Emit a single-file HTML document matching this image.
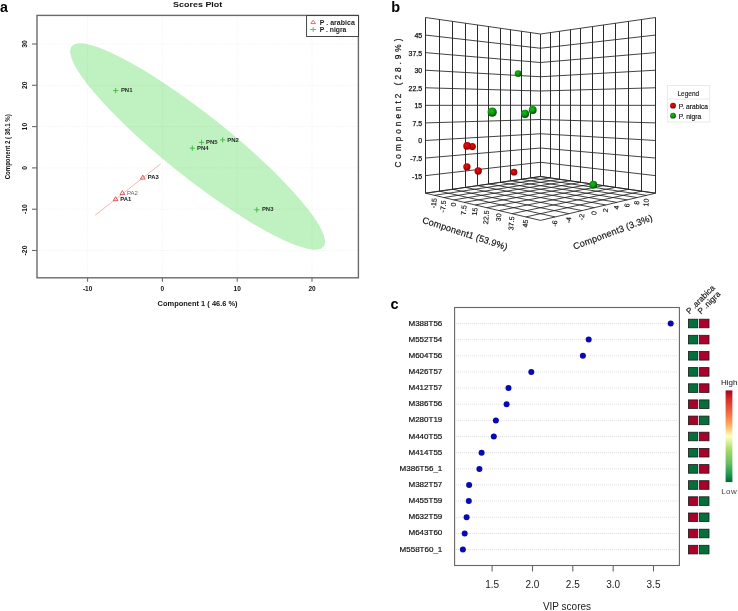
<!DOCTYPE html>
<html><head><meta charset="utf-8"><style>
html,body{margin:0;padding:0;background:#fff;width:738px;height:611px;overflow:hidden;}
svg{display:block;will-change:transform;}
</style></head><body>
<svg width="738" height="611" viewBox="0 0 738 611">
<rect width="738" height="611" fill="#fff"/>
<text x="0.00" y="11.50" font-family="'Liberation Sans', sans-serif" font-size="14.2" font-weight="bold" fill="#000">a</text>
<text x="173.10" y="7.30" font-family="'Liberation Sans', sans-serif" font-size="7.0" font-weight="bold" fill="#111" textLength="49.2" lengthAdjust="spacingAndGlyphs">Scores Plot</text>
<ellipse cx="197.55" cy="146.5" rx="160.9" ry="31.5" transform="rotate(38.5 197.55 146.5)" fill="#c0f1c0"/>
<line x1="87.6" y1="15.4" x2="87.6" y2="277.8" stroke="#000" stroke-opacity="0.08" stroke-width="0.7" stroke-dasharray="1,1.2"/>
<line x1="162.4" y1="15.4" x2="162.4" y2="277.8" stroke="#000" stroke-opacity="0.08" stroke-width="0.7" stroke-dasharray="1,1.2"/>
<line x1="237.2" y1="15.4" x2="237.2" y2="277.8" stroke="#000" stroke-opacity="0.08" stroke-width="0.7" stroke-dasharray="1,1.2"/>
<line x1="312.0" y1="15.4" x2="312.0" y2="277.8" stroke="#000" stroke-opacity="0.08" stroke-width="0.7" stroke-dasharray="1,1.2"/>
<line x1="37.0" y1="44.0" x2="358.4" y2="44.0" stroke="#000" stroke-opacity="0.08" stroke-width="0.7" stroke-dasharray="1,1.2"/>
<line x1="37.0" y1="85.3" x2="358.4" y2="85.3" stroke="#000" stroke-opacity="0.08" stroke-width="0.7" stroke-dasharray="1,1.2"/>
<line x1="37.0" y1="126.6" x2="358.4" y2="126.6" stroke="#000" stroke-opacity="0.08" stroke-width="0.7" stroke-dasharray="1,1.2"/>
<line x1="37.0" y1="167.9" x2="358.4" y2="167.9" stroke="#000" stroke-opacity="0.08" stroke-width="0.7" stroke-dasharray="1,1.2"/>
<line x1="37.0" y1="209.2" x2="358.4" y2="209.2" stroke="#000" stroke-opacity="0.08" stroke-width="0.7" stroke-dasharray="1,1.2"/>
<line x1="37.0" y1="250.5" x2="358.4" y2="250.5" stroke="#000" stroke-opacity="0.08" stroke-width="0.7" stroke-dasharray="1,1.2"/>
<line x1="95.2" y1="215.2" x2="160.5" y2="164" stroke="#f08c8c" stroke-width="0.65"/>
<rect x="37.0" y="15.4" width="321.4" height="262.4" fill="none" stroke="#6a6a6a" stroke-width="1.4"/>
<line x1="87.6" y1="277.8" x2="87.6" y2="281.8" stroke="#6a6a6a" stroke-width="1.1"/>
<text x="87.60" y="290.90" font-family="'Liberation Sans', sans-serif" font-size="6.5" font-weight="bold" text-anchor="middle" fill="#111">-10</text>
<line x1="162.4" y1="277.8" x2="162.4" y2="281.8" stroke="#6a6a6a" stroke-width="1.1"/>
<text x="162.40" y="290.90" font-family="'Liberation Sans', sans-serif" font-size="6.5" font-weight="bold" text-anchor="middle" fill="#111">0</text>
<line x1="237.2" y1="277.8" x2="237.2" y2="281.8" stroke="#6a6a6a" stroke-width="1.1"/>
<text x="237.20" y="290.90" font-family="'Liberation Sans', sans-serif" font-size="6.5" font-weight="bold" text-anchor="middle" fill="#111">10</text>
<line x1="312.0" y1="277.8" x2="312.0" y2="281.8" stroke="#6a6a6a" stroke-width="1.1"/>
<text x="312.00" y="290.90" font-family="'Liberation Sans', sans-serif" font-size="6.5" font-weight="bold" text-anchor="middle" fill="#111">20</text>
<line x1="32.0" y1="44.0" x2="37.0" y2="44.0" stroke="#6a6a6a" stroke-width="1.1"/>
<text transform="translate(27.30 44.00) rotate(-90)" font-family="'Liberation Sans', sans-serif" font-size="6.8" font-weight="bold" text-anchor="middle" fill="#111">30</text>
<line x1="32.0" y1="85.3" x2="37.0" y2="85.3" stroke="#6a6a6a" stroke-width="1.1"/>
<text transform="translate(27.30 85.30) rotate(-90)" font-family="'Liberation Sans', sans-serif" font-size="6.8" font-weight="bold" text-anchor="middle" fill="#111">20</text>
<line x1="32.0" y1="126.6" x2="37.0" y2="126.6" stroke="#6a6a6a" stroke-width="1.1"/>
<text transform="translate(27.30 126.60) rotate(-90)" font-family="'Liberation Sans', sans-serif" font-size="6.8" font-weight="bold" text-anchor="middle" fill="#111">10</text>
<line x1="32.0" y1="167.9" x2="37.0" y2="167.9" stroke="#6a6a6a" stroke-width="1.1"/>
<text transform="translate(27.30 167.90) rotate(-90)" font-family="'Liberation Sans', sans-serif" font-size="6.8" font-weight="bold" text-anchor="middle" fill="#111">0</text>
<line x1="32.0" y1="209.2" x2="37.0" y2="209.2" stroke="#6a6a6a" stroke-width="1.1"/>
<text transform="translate(27.30 209.20) rotate(-90)" font-family="'Liberation Sans', sans-serif" font-size="6.8" font-weight="bold" text-anchor="middle" fill="#111">-10</text>
<line x1="32.0" y1="250.5" x2="37.0" y2="250.5" stroke="#6a6a6a" stroke-width="1.1"/>
<text transform="translate(27.30 250.50) rotate(-90)" font-family="'Liberation Sans', sans-serif" font-size="6.8" font-weight="bold" text-anchor="middle" fill="#111">-20</text>
<text x="157.60" y="306.00" font-family="'Liberation Sans', sans-serif" font-size="7.2" font-weight="bold" fill="#111" textLength="80" lengthAdjust="spacingAndGlyphs">Component 1 ( 46.6 %)</text>
<text transform="translate(10.40 179.30) rotate(-90)" font-family="'Liberation Sans', sans-serif" font-size="6.8" font-weight="bold" fill="#111" textLength="65" lengthAdjust="spacingAndGlyphs">Component 2 ( 36.1 %)</text>
<rect x="306.6" y="15.6" width="51.9" height="20.9" fill="#fff" stroke="#333" stroke-width="0.9"/>
<path d="M313.2 20.2 L315.6 23.6 L310.8 23.6 Z" fill="none" stroke="#e86a6a" stroke-width="1"/>
<path d="M310.2 29.5 H316.2 M313.2 27.1 V31.9" stroke="#5cc45c" stroke-width="1"/>
<text x="319.80" y="24.80" font-family="'Liberation Sans', sans-serif" font-size="6.4" font-weight="bold" fill="#1a1a1a" textLength="35" lengthAdjust="spacingAndGlyphs">P . arabica</text>
<text x="319.80" y="31.50" font-family="'Liberation Sans', sans-serif" font-size="6.4" font-weight="bold" fill="#1a1a1a" textLength="26.6" lengthAdjust="spacingAndGlyphs">P . nigra</text>
<path d="M142.8 175.1 L145.2 179.1 L140.4 179.1 Z" fill="none" stroke="#e04848" stroke-width="0.9"/>
<text x="147.70" y="179.20" font-family="'Liberation Sans', sans-serif" font-size="5.4" font-weight="bold" fill="#111" textLength="11" lengthAdjust="spacingAndGlyphs">PA3</text>
<path d="M122.4 190.6 L124.8 194.6 L120.0 194.6 Z" fill="none" stroke="#e04848" stroke-width="0.9"/>
<text x="127.00" y="194.70" font-family="'Liberation Sans', sans-serif" font-size="5.4" fill="#666" textLength="11" lengthAdjust="spacingAndGlyphs">PA2</text>
<path d="M115.6 196.7 L118.0 200.7 L113.2 200.7 Z" fill="none" stroke="#e04848" stroke-width="0.9"/>
<text x="120.20" y="200.80" font-family="'Liberation Sans', sans-serif" font-size="5.4" font-weight="bold" fill="#111" textLength="11" lengthAdjust="spacingAndGlyphs">PA1</text>
<path d="M113.1 90.6 H118.3 M115.7 88.0 V93.2" stroke="#3cb83c" stroke-width="0.9"/>
<text x="120.90" y="92.20" font-family="'Liberation Sans', sans-serif" font-size="5.4" font-weight="bold" fill="#1f2a1f" textLength="11.6" lengthAdjust="spacingAndGlyphs">PN1</text>
<path d="M220.1 139.9 H225.3 M222.7 137.3 V142.5" stroke="#3cb83c" stroke-width="0.9"/>
<text x="227.20" y="141.50" font-family="'Liberation Sans', sans-serif" font-size="5.4" font-weight="bold" fill="#1f2a1f" textLength="11.6" lengthAdjust="spacingAndGlyphs">PN2</text>
<path d="M254.2 209.8 H259.4 M256.8 207.2 V212.4" stroke="#3cb83c" stroke-width="0.9"/>
<text x="261.90" y="211.40" font-family="'Liberation Sans', sans-serif" font-size="5.4" font-weight="bold" fill="#1f2a1f" textLength="11.6" lengthAdjust="spacingAndGlyphs">PN3</text>
<path d="M189.7 148.2 H194.9 M192.3 145.6 V150.8" stroke="#3cb83c" stroke-width="0.9"/>
<text x="197.10" y="149.80" font-family="'Liberation Sans', sans-serif" font-size="5.4" font-weight="bold" fill="#1f2a1f" textLength="11.6" lengthAdjust="spacingAndGlyphs">PN4</text>
<path d="M199.0 142.4 H204.2 M201.6 139.8 V145.0" stroke="#3cb83c" stroke-width="0.9"/>
<text x="206.10" y="144.00" font-family="'Liberation Sans', sans-serif" font-size="5.4" font-weight="bold" fill="#1f2a1f" textLength="11.6" lengthAdjust="spacingAndGlyphs">PN5</text>
<text x="391.30" y="11.60" font-family="'Liberation Sans', sans-serif" font-size="14.5" font-weight="bold" fill="#000">b</text>
<path d="M425.50 17.50L540.50 34.00M425.50 35.07L540.50 48.25M425.50 52.64L540.50 62.50M425.50 70.21L540.50 76.75M425.50 87.78L540.50 91.00M425.50 105.35L540.50 105.25M425.50 122.92L540.50 119.50M425.50 140.49L540.50 133.75M425.50 158.06L540.50 148.00M425.50 175.63L540.50 162.25M425.50 193.20L540.50 176.50M540.50 34.00L655.50 17.50M540.50 48.25L655.50 35.07M540.50 62.50L655.50 52.64M540.50 76.75L655.50 70.21M540.50 91.00L655.50 87.78M540.50 105.25L655.50 105.35M540.50 119.50L655.50 122.92M540.50 133.75L655.50 140.49M540.50 148.00L655.50 158.06M540.50 162.25L655.50 175.63M540.50 176.50L655.50 193.20M425.50 193.20L540.50 220.40M425.50 193.20L540.50 176.50M439.42 191.18L555.15 216.93M434.46 195.32L549.96 177.87M452.70 189.25L568.94 213.67M443.88 197.55L559.81 179.30M465.39 187.41L581.94 210.60M453.78 199.89L570.05 180.79M477.52 185.65L594.21 207.70M464.20 202.35L580.73 182.34M489.14 183.96L605.81 204.95M475.19 204.95L591.86 183.96M500.27 182.34L616.80 202.35M486.79 207.70L603.48 185.65M510.95 180.79L627.22 199.89M499.06 210.60L615.61 187.41M521.19 179.30L637.12 197.55M512.06 213.67L628.30 189.25M531.04 177.87L646.54 195.32M525.85 216.93L641.58 191.18M540.50 176.50L655.50 193.20M540.50 220.40L655.50 193.20" stroke="#222" stroke-width="0.85" fill="none"/>
<path d="M425.5 17.50L425.5 193.20M439.5 19.49L439.5 191.19M452.5 21.39L452.5 189.27M465.5 23.20L465.5 187.43M477.5 24.94L477.5 185.67M488.5 26.61L488.5 183.98M500.5 28.21L500.5 182.36M510.5 29.74L510.5 180.81M521.5 31.22L521.5 179.32M530.5 32.64L530.5 177.88M540.5 34.00L540.5 176.50M540.5 34.00L540.5 176.50M550.5 32.64L550.5 177.88M559.5 31.22L559.5 179.32M570.5 29.74L570.5 180.81M580.5 28.21L580.5 182.36M592.5 26.61L592.5 183.98M603.5 24.94L603.5 185.67M615.5 23.20L615.5 187.43M628.5 21.39L628.5 189.27M641.5 19.49L641.5 191.19M655.5 17.50L655.5 193.20" stroke="#2a2a2a" stroke-width="1" fill="none"/>
<text x="422.20" y="38.07" font-family="'Liberation Sans', sans-serif" font-size="7" text-anchor="end" fill="#111" stroke="#111" stroke-width="0.25">45</text>
<text x="422.20" y="55.64" font-family="'Liberation Sans', sans-serif" font-size="7" text-anchor="end" fill="#111" stroke="#111" stroke-width="0.25">37.5</text>
<text x="422.20" y="73.21" font-family="'Liberation Sans', sans-serif" font-size="7" text-anchor="end" fill="#111" stroke="#111" stroke-width="0.25">30</text>
<text x="422.20" y="90.78" font-family="'Liberation Sans', sans-serif" font-size="7" text-anchor="end" fill="#111" stroke="#111" stroke-width="0.25">22.5</text>
<text x="422.20" y="108.35" font-family="'Liberation Sans', sans-serif" font-size="7" text-anchor="end" fill="#111" stroke="#111" stroke-width="0.25">15</text>
<text x="422.20" y="125.92" font-family="'Liberation Sans', sans-serif" font-size="7" text-anchor="end" fill="#111" stroke="#111" stroke-width="0.25">7.5</text>
<text x="422.20" y="143.49" font-family="'Liberation Sans', sans-serif" font-size="7" text-anchor="end" fill="#111" stroke="#111" stroke-width="0.25">0</text>
<text x="422.20" y="161.06" font-family="'Liberation Sans', sans-serif" font-size="7" text-anchor="end" fill="#111" stroke="#111" stroke-width="0.25">-7.5</text>
<text x="422.20" y="178.63" font-family="'Liberation Sans', sans-serif" font-size="7" text-anchor="end" fill="#111" stroke="#111" stroke-width="0.25">-15</text>
<text transform="translate(400.60 167.60) rotate(-90)" font-family="'Liberation Sans', sans-serif" font-size="8.2" fill="#111" textLength="129" lengthAdjust="spacing" stroke="#111" stroke-width="0.2">Component2 (28.9%)</text>
<text transform="translate(434.76 198.12) rotate(-85)" font-family="'Liberation Sans', sans-serif" font-size="7.1" text-anchor="end" fill="#111" dominant-baseline="central" stroke="#111" stroke-width="0.15">-15</text>
<text transform="translate(444.18 200.35) rotate(-85)" font-family="'Liberation Sans', sans-serif" font-size="7.1" text-anchor="end" fill="#111" dominant-baseline="central" stroke="#111" stroke-width="0.15">-7.5</text>
<text transform="translate(454.08 202.69) rotate(-85)" font-family="'Liberation Sans', sans-serif" font-size="7.1" text-anchor="end" fill="#111" dominant-baseline="central" stroke="#111" stroke-width="0.15">0</text>
<text transform="translate(464.50 205.15) rotate(-85)" font-family="'Liberation Sans', sans-serif" font-size="7.1" text-anchor="end" fill="#111" dominant-baseline="central" stroke="#111" stroke-width="0.15">7.5</text>
<text transform="translate(475.49 207.75) rotate(-85)" font-family="'Liberation Sans', sans-serif" font-size="7.1" text-anchor="end" fill="#111" dominant-baseline="central" stroke="#111" stroke-width="0.15">15</text>
<text transform="translate(487.09 210.50) rotate(-85)" font-family="'Liberation Sans', sans-serif" font-size="7.1" text-anchor="end" fill="#111" dominant-baseline="central" stroke="#111" stroke-width="0.15">22.5</text>
<text transform="translate(499.36 213.40) rotate(-85)" font-family="'Liberation Sans', sans-serif" font-size="7.1" text-anchor="end" fill="#111" dominant-baseline="central" stroke="#111" stroke-width="0.15">30</text>
<text transform="translate(512.36 216.47) rotate(-85)" font-family="'Liberation Sans', sans-serif" font-size="7.1" text-anchor="end" fill="#111" dominant-baseline="central" stroke="#111" stroke-width="0.15">37.5</text>
<text transform="translate(526.15 219.73) rotate(-85)" font-family="'Liberation Sans', sans-serif" font-size="7.1" text-anchor="end" fill="#111" dominant-baseline="central" stroke="#111" stroke-width="0.15">45</text>
<text transform="translate(555.45 220.33) rotate(-85)" font-family="'Liberation Sans', sans-serif" font-size="7.1" text-anchor="end" fill="#111" dominant-baseline="central" stroke="#111" stroke-width="0.15">-6</text>
<text transform="translate(569.24 217.07) rotate(-85)" font-family="'Liberation Sans', sans-serif" font-size="7.1" text-anchor="end" fill="#111" dominant-baseline="central" stroke="#111" stroke-width="0.15">-4</text>
<text transform="translate(582.24 214.00) rotate(-85)" font-family="'Liberation Sans', sans-serif" font-size="7.1" text-anchor="end" fill="#111" dominant-baseline="central" stroke="#111" stroke-width="0.15">-2</text>
<text transform="translate(594.51 211.10) rotate(-85)" font-family="'Liberation Sans', sans-serif" font-size="7.1" text-anchor="end" fill="#111" dominant-baseline="central" stroke="#111" stroke-width="0.15">0</text>
<text transform="translate(606.11 208.35) rotate(-85)" font-family="'Liberation Sans', sans-serif" font-size="7.1" text-anchor="end" fill="#111" dominant-baseline="central" stroke="#111" stroke-width="0.15">2</text>
<text transform="translate(617.10 205.75) rotate(-85)" font-family="'Liberation Sans', sans-serif" font-size="7.1" text-anchor="end" fill="#111" dominant-baseline="central" stroke="#111" stroke-width="0.15">4</text>
<text transform="translate(627.52 203.29) rotate(-85)" font-family="'Liberation Sans', sans-serif" font-size="7.1" text-anchor="end" fill="#111" dominant-baseline="central" stroke="#111" stroke-width="0.15">6</text>
<text transform="translate(637.42 200.95) rotate(-85)" font-family="'Liberation Sans', sans-serif" font-size="7.1" text-anchor="end" fill="#111" dominant-baseline="central" stroke="#111" stroke-width="0.15">8</text>
<text transform="translate(646.84 198.72) rotate(-85)" font-family="'Liberation Sans', sans-serif" font-size="7.1" text-anchor="end" fill="#111" dominant-baseline="central" stroke="#111" stroke-width="0.15">10</text>
<text transform="translate(464.00 236.40) rotate(18)" font-family="'Liberation Sans', sans-serif" font-size="9.2" text-anchor="middle" fill="#111" textLength="89" lengthAdjust="spacing" stroke="#111" stroke-width="0.15">Component1 (53.9%)</text>
<text transform="translate(613.80 235.00) rotate(-20.5)" font-family="'Liberation Sans', sans-serif" font-size="9.2" text-anchor="middle" fill="#111" textLength="84" lengthAdjust="spacing" stroke="#111" stroke-width="0.15">Component3 (3.3%)</text>
<defs><radialGradient id="gr" cx="0.42" cy="0.38" r="0.62"><stop offset="0" stop-color="#e81010"/><stop offset="0.55" stop-color="#c80000"/><stop offset="1" stop-color="#7a0000"/></radialGradient><radialGradient id="gg" cx="0.42" cy="0.38" r="0.62"><stop offset="0" stop-color="#1cb81c"/><stop offset="0.55" stop-color="#0a960a"/><stop offset="1" stop-color="#004a00"/></radialGradient><linearGradient id="cb" x1="0" y1="0" x2="0" y2="1"><stop offset="0" stop-color="#a50026"/><stop offset="0.1" stop-color="#d73027"/><stop offset="0.25" stop-color="#f46d43"/><stop offset="0.38" stop-color="#fdae61"/><stop offset="0.5" stop-color="#ffffbf"/><stop offset="0.65" stop-color="#a6d96a"/><stop offset="0.8" stop-color="#66bd63"/><stop offset="0.92" stop-color="#1a9850"/><stop offset="1" stop-color="#006837"/></linearGradient></defs>
<circle cx="472.3" cy="146.6" r="3.55" fill="url(#gr)"/>
<circle cx="467.1" cy="145.9" r="3.85" fill="url(#gr)"/>
<circle cx="466.9" cy="166.8" r="3.65" fill="url(#gr)"/>
<circle cx="478.2" cy="171" r="3.7" fill="url(#gr)"/>
<circle cx="514" cy="172.2" r="3.35" fill="url(#gr)"/>
<circle cx="518.1" cy="73.5" r="3.35" fill="url(#gg)"/>
<circle cx="532.7" cy="110" r="3.95" fill="url(#gg)"/>
<circle cx="525" cy="113.9" r="4.05" fill="url(#gg)"/>
<circle cx="492.2" cy="112.1" r="4.65" fill="url(#gg)"/>
<circle cx="593.3" cy="184.8" r="3.95" fill="url(#gg)"/>
<rect x="667.4" y="85.4" width="42.3" height="36.6" fill="#fff" stroke="#e4e4e4" stroke-width="0.8"/>
<line x1="667.4" y1="99.1" x2="709.7" y2="99.1" stroke="#e4e4e4" stroke-width="0.8"/>
<text x="688.30" y="95.60" font-family="'Liberation Sans', sans-serif" font-size="7" text-anchor="middle" fill="#222" textLength="21.7" lengthAdjust="spacingAndGlyphs" stroke="#222" stroke-width="0.15">Legend</text>
<circle cx="673" cy="105.7" r="2.9" fill="url(#gr)"/>
<circle cx="673" cy="115.7" r="2.9" fill="url(#gg)"/>
<text x="678.80" y="108.60" font-family="'Liberation Sans', sans-serif" font-size="7" fill="#111" textLength="29.3" lengthAdjust="spacingAndGlyphs" stroke="#111" stroke-width="0.15">P. arabica</text>
<text x="678.80" y="118.60" font-family="'Liberation Sans', sans-serif" font-size="7" fill="#111" textLength="22.4" lengthAdjust="spacingAndGlyphs" stroke="#111" stroke-width="0.15">P. nigra</text>
<text x="390.50" y="309.00" font-family="'Liberation Sans', sans-serif" font-size="14.5" font-weight="bold" fill="#000">c</text>
<line x1="456.1" y1="323.5" x2="677.9" y2="323.5" stroke="#c8c8c8" stroke-width="0.6" stroke-dasharray="1,1"/>
<circle cx="670.7" cy="323.5" r="3" fill="#0808b4"/>
<text x="442.30" y="325.50" font-family="'Liberation Sans', sans-serif" font-size="8" text-anchor="end" fill="#111" stroke="#111" stroke-width="0.2">M388T56</text>
<rect x="688.4" y="319.2" width="9.4" height="8.6" fill="#03703a" stroke="#1a1a1a" stroke-width="0.8"/>
<rect x="699.6" y="319.2" width="9.4" height="8.6" fill="#aa0029" stroke="#1a1a1a" stroke-width="0.8"/>
<line x1="456.1" y1="339.6" x2="677.9" y2="339.6" stroke="#c8c8c8" stroke-width="0.6" stroke-dasharray="1,1"/>
<circle cx="588.7" cy="339.6" r="3" fill="#0808b4"/>
<text x="442.30" y="341.65" font-family="'Liberation Sans', sans-serif" font-size="8" text-anchor="end" fill="#111" stroke="#111" stroke-width="0.2">M552T54</text>
<rect x="688.4" y="335.3" width="9.4" height="8.6" fill="#03703a" stroke="#1a1a1a" stroke-width="0.8"/>
<rect x="699.6" y="335.3" width="9.4" height="8.6" fill="#aa0029" stroke="#1a1a1a" stroke-width="0.8"/>
<line x1="456.1" y1="355.8" x2="677.9" y2="355.8" stroke="#c8c8c8" stroke-width="0.6" stroke-dasharray="1,1"/>
<circle cx="582.9" cy="355.8" r="3" fill="#0808b4"/>
<text x="442.30" y="357.80" font-family="'Liberation Sans', sans-serif" font-size="8" text-anchor="end" fill="#111" stroke="#111" stroke-width="0.2">M604T56</text>
<rect x="688.4" y="351.5" width="9.4" height="8.6" fill="#03703a" stroke="#1a1a1a" stroke-width="0.8"/>
<rect x="699.6" y="351.5" width="9.4" height="8.6" fill="#aa0029" stroke="#1a1a1a" stroke-width="0.8"/>
<line x1="456.1" y1="371.9" x2="677.9" y2="371.9" stroke="#c8c8c8" stroke-width="0.6" stroke-dasharray="1,1"/>
<circle cx="531.3" cy="371.9" r="3" fill="#0808b4"/>
<text x="442.30" y="373.95" font-family="'Liberation Sans', sans-serif" font-size="8" text-anchor="end" fill="#111" stroke="#111" stroke-width="0.2">M426T57</text>
<rect x="688.4" y="367.6" width="9.4" height="8.6" fill="#03703a" stroke="#1a1a1a" stroke-width="0.8"/>
<rect x="699.6" y="367.6" width="9.4" height="8.6" fill="#aa0029" stroke="#1a1a1a" stroke-width="0.8"/>
<line x1="456.1" y1="388.1" x2="677.9" y2="388.1" stroke="#c8c8c8" stroke-width="0.6" stroke-dasharray="1,1"/>
<circle cx="508.5" cy="388.1" r="3" fill="#0808b4"/>
<text x="442.30" y="390.10" font-family="'Liberation Sans', sans-serif" font-size="8" text-anchor="end" fill="#111" stroke="#111" stroke-width="0.2">M412T57</text>
<rect x="688.4" y="383.8" width="9.4" height="8.6" fill="#03703a" stroke="#1a1a1a" stroke-width="0.8"/>
<rect x="699.6" y="383.8" width="9.4" height="8.6" fill="#aa0029" stroke="#1a1a1a" stroke-width="0.8"/>
<line x1="456.1" y1="404.2" x2="677.9" y2="404.2" stroke="#c8c8c8" stroke-width="0.6" stroke-dasharray="1,1"/>
<circle cx="506.6" cy="404.2" r="3" fill="#0808b4"/>
<text x="442.30" y="406.25" font-family="'Liberation Sans', sans-serif" font-size="8" text-anchor="end" fill="#111" stroke="#111" stroke-width="0.2">M386T56</text>
<rect x="688.4" y="399.9" width="9.4" height="8.6" fill="#aa0029" stroke="#1a1a1a" stroke-width="0.8"/>
<rect x="699.6" y="399.9" width="9.4" height="8.6" fill="#03703a" stroke="#1a1a1a" stroke-width="0.8"/>
<line x1="456.1" y1="420.4" x2="677.9" y2="420.4" stroke="#c8c8c8" stroke-width="0.6" stroke-dasharray="1,1"/>
<circle cx="495.9" cy="420.4" r="3" fill="#0808b4"/>
<text x="442.30" y="422.40" font-family="'Liberation Sans', sans-serif" font-size="8" text-anchor="end" fill="#111" stroke="#111" stroke-width="0.2">M280T19</text>
<rect x="688.4" y="416.1" width="9.4" height="8.6" fill="#aa0029" stroke="#1a1a1a" stroke-width="0.8"/>
<rect x="699.6" y="416.1" width="9.4" height="8.6" fill="#03703a" stroke="#1a1a1a" stroke-width="0.8"/>
<line x1="456.1" y1="436.5" x2="677.9" y2="436.5" stroke="#c8c8c8" stroke-width="0.6" stroke-dasharray="1,1"/>
<circle cx="493.8" cy="436.5" r="3" fill="#0808b4"/>
<text x="442.30" y="438.55" font-family="'Liberation Sans', sans-serif" font-size="8" text-anchor="end" fill="#111" stroke="#111" stroke-width="0.2">M440T55</text>
<rect x="688.4" y="432.2" width="9.4" height="8.6" fill="#03703a" stroke="#1a1a1a" stroke-width="0.8"/>
<rect x="699.6" y="432.2" width="9.4" height="8.6" fill="#aa0029" stroke="#1a1a1a" stroke-width="0.8"/>
<line x1="456.1" y1="452.7" x2="677.9" y2="452.7" stroke="#c8c8c8" stroke-width="0.6" stroke-dasharray="1,1"/>
<circle cx="481.6" cy="452.7" r="3" fill="#0808b4"/>
<text x="442.30" y="454.70" font-family="'Liberation Sans', sans-serif" font-size="8" text-anchor="end" fill="#111" stroke="#111" stroke-width="0.2">M414T55</text>
<rect x="688.4" y="448.4" width="9.4" height="8.6" fill="#03703a" stroke="#1a1a1a" stroke-width="0.8"/>
<rect x="699.6" y="448.4" width="9.4" height="8.6" fill="#aa0029" stroke="#1a1a1a" stroke-width="0.8"/>
<line x1="456.1" y1="468.9" x2="677.9" y2="468.9" stroke="#c8c8c8" stroke-width="0.6" stroke-dasharray="1,1"/>
<circle cx="479.4" cy="468.9" r="3" fill="#0808b4"/>
<text x="442.30" y="470.85" font-family="'Liberation Sans', sans-serif" font-size="8" text-anchor="end" fill="#111" stroke="#111" stroke-width="0.2">M386T56_1</text>
<rect x="688.4" y="464.6" width="9.4" height="8.6" fill="#03703a" stroke="#1a1a1a" stroke-width="0.8"/>
<rect x="699.6" y="464.6" width="9.4" height="8.6" fill="#aa0029" stroke="#1a1a1a" stroke-width="0.8"/>
<line x1="456.1" y1="485.0" x2="677.9" y2="485.0" stroke="#c8c8c8" stroke-width="0.6" stroke-dasharray="1,1"/>
<circle cx="469.1" cy="485.0" r="3" fill="#0808b4"/>
<text x="442.30" y="487.00" font-family="'Liberation Sans', sans-serif" font-size="8" text-anchor="end" fill="#111" stroke="#111" stroke-width="0.2">M382T57</text>
<rect x="688.4" y="480.7" width="9.4" height="8.6" fill="#03703a" stroke="#1a1a1a" stroke-width="0.8"/>
<rect x="699.6" y="480.7" width="9.4" height="8.6" fill="#aa0029" stroke="#1a1a1a" stroke-width="0.8"/>
<line x1="456.1" y1="501.1" x2="677.9" y2="501.1" stroke="#c8c8c8" stroke-width="0.6" stroke-dasharray="1,1"/>
<circle cx="468.8" cy="501.1" r="3" fill="#0808b4"/>
<text x="442.30" y="503.15" font-family="'Liberation Sans', sans-serif" font-size="8" text-anchor="end" fill="#111" stroke="#111" stroke-width="0.2">M455T59</text>
<rect x="688.4" y="496.8" width="9.4" height="8.6" fill="#aa0029" stroke="#1a1a1a" stroke-width="0.8"/>
<rect x="699.6" y="496.8" width="9.4" height="8.6" fill="#03703a" stroke="#1a1a1a" stroke-width="0.8"/>
<line x1="456.1" y1="517.3" x2="677.9" y2="517.3" stroke="#c8c8c8" stroke-width="0.6" stroke-dasharray="1,1"/>
<circle cx="466.6" cy="517.3" r="3" fill="#0808b4"/>
<text x="442.30" y="519.30" font-family="'Liberation Sans', sans-serif" font-size="8" text-anchor="end" fill="#111" stroke="#111" stroke-width="0.2">M632T59</text>
<rect x="688.4" y="513.0" width="9.4" height="8.6" fill="#aa0029" stroke="#1a1a1a" stroke-width="0.8"/>
<rect x="699.6" y="513.0" width="9.4" height="8.6" fill="#03703a" stroke="#1a1a1a" stroke-width="0.8"/>
<line x1="456.1" y1="533.5" x2="677.9" y2="533.5" stroke="#c8c8c8" stroke-width="0.6" stroke-dasharray="1,1"/>
<circle cx="464.7" cy="533.5" r="3" fill="#0808b4"/>
<text x="442.30" y="535.45" font-family="'Liberation Sans', sans-serif" font-size="8" text-anchor="end" fill="#111" stroke="#111" stroke-width="0.2">M643T60</text>
<rect x="688.4" y="529.2" width="9.4" height="8.6" fill="#aa0029" stroke="#1a1a1a" stroke-width="0.8"/>
<rect x="699.6" y="529.2" width="9.4" height="8.6" fill="#03703a" stroke="#1a1a1a" stroke-width="0.8"/>
<line x1="456.1" y1="549.6" x2="677.9" y2="549.6" stroke="#c8c8c8" stroke-width="0.6" stroke-dasharray="1,1"/>
<circle cx="462.9" cy="549.6" r="3" fill="#0808b4"/>
<text x="442.30" y="551.60" font-family="'Liberation Sans', sans-serif" font-size="8" text-anchor="end" fill="#111" stroke="#111" stroke-width="0.2">M558T60_1</text>
<rect x="688.4" y="545.3" width="9.4" height="8.6" fill="#aa0029" stroke="#1a1a1a" stroke-width="0.8"/>
<rect x="699.6" y="545.3" width="9.4" height="8.6" fill="#03703a" stroke="#1a1a1a" stroke-width="0.8"/>
<rect x="454.6" y="307.5" width="224.8" height="258.0" fill="none" stroke="#666" stroke-width="1.1"/>
<line x1="492.1" y1="565.5" x2="492.1" y2="571.5" stroke="#666" stroke-width="1.1"/>
<text x="492.10" y="588.00" font-family="'Liberation Sans', sans-serif" font-size="10" text-anchor="middle" fill="#222">1.5</text>
<line x1="532.5" y1="565.5" x2="532.5" y2="571.5" stroke="#666" stroke-width="1.1"/>
<text x="532.45" y="588.00" font-family="'Liberation Sans', sans-serif" font-size="10" text-anchor="middle" fill="#222">2.0</text>
<line x1="572.8" y1="565.5" x2="572.8" y2="571.5" stroke="#666" stroke-width="1.1"/>
<text x="572.80" y="588.00" font-family="'Liberation Sans', sans-serif" font-size="10" text-anchor="middle" fill="#222">2.5</text>
<line x1="613.2" y1="565.5" x2="613.2" y2="571.5" stroke="#666" stroke-width="1.1"/>
<text x="613.15" y="588.00" font-family="'Liberation Sans', sans-serif" font-size="10" text-anchor="middle" fill="#222">3.0</text>
<line x1="653.5" y1="565.5" x2="653.5" y2="571.5" stroke="#666" stroke-width="1.1"/>
<text x="653.50" y="588.00" font-family="'Liberation Sans', sans-serif" font-size="10" text-anchor="middle" fill="#222">3.5</text>
<text x="567.00" y="610.00" font-family="'Liberation Sans', sans-serif" font-size="10" text-anchor="middle" fill="#222">VIP scores</text>
<text transform="translate(689.40 314.40) rotate(-45)" font-family="'Liberation Sans', sans-serif" font-size="8.2" fill="#111" stroke="#111" stroke-width="0.15">P .arabica</text>
<text transform="translate(701.00 314.40) rotate(-45)" font-family="'Liberation Sans', sans-serif" font-size="8.2" fill="#111" stroke="#111" stroke-width="0.15">P .nigra</text>
<rect x="725.6" y="390.4" width="6.8" height="91.7" fill="url(#cb)"/>
<text x="729.20" y="384.50" font-family="'Liberation Sans', sans-serif" font-size="8" text-anchor="middle" fill="#111">High</text>
<text x="729.20" y="494.30" font-family="'Liberation Sans', sans-serif" font-size="8" text-anchor="middle" fill="#444" letter-spacing="0.4">Low</text>
</svg>
</body></html>
